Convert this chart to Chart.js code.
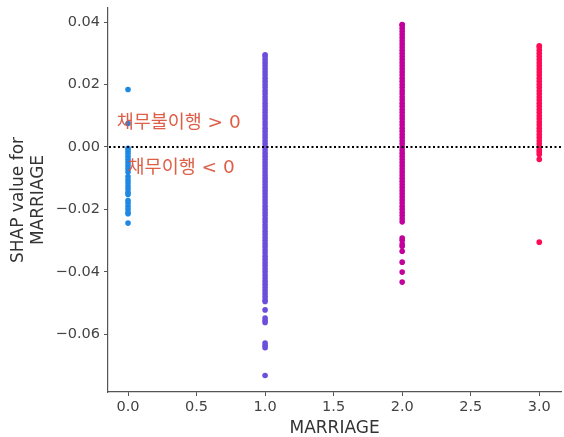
<!DOCTYPE html>
<html>
<head>
<meta charset="utf-8">
<script src="https://cdn.jsdelivr.net/npm/chart.js@4.4.1/dist/chart.umd.min.js"></script>
<style>
  body { margin: 0; background: #fff; }
  #wrap { width: 564px; height: 437px; }
</style>
</head>
<body>
<div id="wrap"><canvas id="shapChart" width="564" height="437"></canvas></div>
<script>
// Valores de la categoría MARRIAGE
const marriageValues = [0, 1, 2, 3];
const marriageColors = ['#1e88e5', '#6b4fda', '#c2009c', '#ff0a55'];

// Valores SHAP
const cat0Shap = [0.0184, 0.0075, -0.0004, -0.0012, -0.002, -0.003, -0.004, -0.005, -0.006, -0.007, -0.008,
  -0.0095, -0.0105, -0.0115, -0.0125, -0.0135, -0.0145, -0.0152, -0.0172, -0.018, -0.019, -0.020, -0.021,
  -0.0214, -0.0244];

const cat1Shap = [0.0295, 0.029, 0.028, 0.027, 0.026, 0.025, 0.024, 0.023, 0.022, 0.021, 0.020, 0.019, 0.018,
  0.017, 0.016, 0.015, 0.014, 0.013, 0.012, 0.011, 0.010, 0.009, 0.008, 0.007, 0.006, 0.005, 0.004, 0.003,
  0.002, 0.001, 0.000, -0.001, -0.002, -0.003, -0.004, -0.005, -0.006, -0.007, -0.008, -0.009, -0.010,
  -0.011, -0.012, -0.013, -0.014, -0.015, -0.016, -0.017, -0.018, -0.019, -0.020, -0.021, -0.022, -0.023,
  -0.024, -0.025, -0.026, -0.027, -0.028, -0.029, -0.030, -0.031, -0.032, -0.033, -0.034, -0.035, -0.036,
  -0.037, -0.038, -0.039, -0.040, -0.041, -0.042, -0.043, -0.044, -0.045, -0.046, -0.047, -0.048, -0.049,
  -0.0495, -0.0522, -0.0548, -0.0556, -0.0562, -0.0628, -0.0636, -0.0643, -0.0732];

const cat2Shap = [0.0392, 0.039, 0.038, 0.037, 0.036, 0.035, 0.034, 0.033, 0.032, 0.031, 0.030, 0.029, 0.028,
  0.027, 0.026, 0.025, 0.024, 0.023, 0.022, 0.021, 0.020, 0.019, 0.018, 0.017, 0.016, 0.015, 0.014, 0.013,
  0.012, 0.011, 0.010, 0.009, 0.008, 0.007, 0.006, 0.005, 0.004, 0.003, 0.002, 0.001, 0.000, -0.001, -0.002,
  -0.003, -0.004, -0.005, -0.006, -0.007, -0.008, -0.009, -0.010, -0.011, -0.012, -0.013, -0.014, -0.015,
  -0.016, -0.017, -0.018, -0.019, -0.020, -0.021, -0.022, -0.023, -0.024,
  -0.0292, -0.0299, -0.0311, -0.0318, -0.0334, -0.0369, -0.0401, -0.0433];

const cat3Shap = [0.0324, 0.032, 0.031, 0.030, 0.029, 0.028, 0.027, 0.026, 0.025, 0.024, 0.023, 0.022, 0.021,
  0.020, 0.019, 0.018, 0.017, 0.016, 0.015, 0.014, 0.013, 0.012, 0.011, 0.010, 0.009, 0.008, 0.007, 0.006,
  0.005, 0.004, 0.003, 0.002, 0.001, 0.000, -0.001, -0.0016, -0.0024, -0.004, -0.0305];

const shapSeries = [cat0Shap, cat1Shap, cat2Shap, cat3Shap];

// Etiquetas de ejes y anotaciones
const xTitle = 'MARRIAGE';
const yTitle = ['SHAP value for', 'MARRIAGE'];
const xTicks = [0, 0.5, 1, 1.5, 2, 2.5, 3];
const yTicks = [-0.06, -0.04, -0.02, 0, 0.02, 0.04];
const notes = [
  { text: '채무불이행 > 0', x: -0.083, y: 0.0075 },
  { text: '채무이행 < 0', x: -0.003, y: -0.0068 }
];

// Línea punteada en cero y textos
const zeroLinePlugin = {
  id: 'zeroLine',
  afterDatasetsDraw(chart) {
    const { ctx, chartArea, scales } = chart;
    const y0 = scales.y.getPixelForValue(0);
    ctx.save();
    ctx.strokeStyle = '#000';
    ctx.lineWidth = 2;
    ctx.setLineDash([2, 2.5]);
    ctx.beginPath();
    ctx.moveTo(chartArea.left + 1, y0);
    ctx.lineTo(chartArea.right, y0);
    ctx.stroke();
    ctx.setLineDash([]);
    ctx.font = '18.5px "DejaVu Sans", "Noto Sans CJK KR", sans-serif';
    ctx.fillStyle = 'rgba(218, 78, 52, 0.9)';
    ctx.textBaseline = 'middle';
    ctx.textAlign = 'left';
    notes.forEach(n => {
      ctx.fillText(n.text, scales.x.getPixelForValue(n.x), scales.y.getPixelForValue(n.y));
    });
    ctx.restore();
  }
};

function fmtTick(v, digits) {
  if (Math.abs(v) < 1e-9) return (0).toFixed(digits);
  const s = Math.abs(v).toFixed(digits);
  return v < 0 ? '\u2212' + s : s;
}

const ctx = document.getElementById('shapChart').getContext('2d');
new Chart(ctx, {
  type: 'scatter',
  data: {
    datasets: shapSeries.map((vals, i) => ({
      data: vals.map(v => ({ x: marriageValues[i], y: v })),
      backgroundColor: marriageColors[i],
      borderWidth: 0,
      pointRadius: 2.8,
      pointHoverRadius: 2.8
    }))
  },
  options: {
    responsive: false,
    animation: false,
    layout: { padding: { top: 8, right: 2, left: 0, bottom: 0 } },
    plugins: {
      legend: { display: false },
      tooltip: { enabled: false }
    },
    scales: {
      x: {
        type: 'linear',
        min: -0.146,
        max: 3.16,
        afterFit(scale) {
          scale.height = 45;
          scale.paddingLeft = 0;
          scale.paddingRight = 0;
        },
        afterBuildTicks(scale) { scale.ticks = xTicks.map(v => ({ value: v })); },
        ticks: {
          callback: v => fmtTick(v, 1),
          color: '#444',
          padding: 3,
          font: { family: 'DejaVu Sans', size: 14.5 }
        },
        grid: { display: true, drawOnChartArea: false, drawTicks: true, tickLength: 4, color: '#555' },
        border: { display: true, color: '#555', width: 1.2 },
        title: {
          display: true,
          text: xTitle,
          color: '#333',
          padding: { top: 0, bottom: 0 },
          font: { family: 'DejaVu Sans', size: 17, lineHeight: 1.0 }
        }
      },
      y: {
        min: -0.0785,
        max: 0.0445,
        afterFit(scale) {
          scale.width = 108;
          scale.paddingTop = 0;
          scale.paddingBottom = 0;
        },
        afterBuildTicks(scale) { scale.ticks = yTicks.map(v => ({ value: v })); },
        ticks: {
          callback: v => fmtTick(v, 2),
          color: '#444',
          padding: 4,
          font: { family: 'DejaVu Sans', size: 14.5 }
        },
        grid: { display: true, drawOnChartArea: false, drawTicks: true, tickLength: 4, color: '#555' },
        border: { display: true, color: '#555', width: 1.2 },
        title: {
          display: true,
          text: yTitle,
          color: '#333',
          padding: { top: 9, bottom: 0 },
          font: { family: 'DejaVu Sans', size: 17, lineHeight: 1.15 }
        }
      }
    }
  },
  plugins: [zeroLinePlugin]
});
</script>
</body>
</html>
